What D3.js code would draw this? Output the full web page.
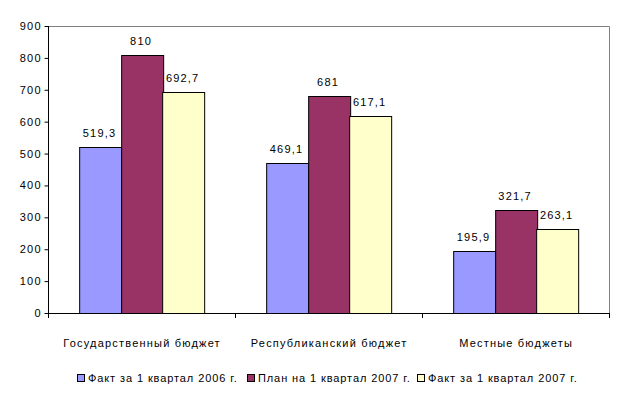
<!DOCTYPE html>
<html>
<head>
<meta charset="utf-8">
<script src="https://cdn.jsdelivr.net/npm/d3@7"></script>
<style>
  body { margin: 0; background: #fff; }
  text { font-family: Arial, "Liberation Sans", sans-serif; font-size: 11px; letter-spacing: 1.2px; fill: #000; }
  .leg text { letter-spacing: 0.9px; }
</style>
</head>
<body>
<div id="chart"></div>
<script>
// data
const categories = ["Государственный бюджет", "Республиканский бюджет", "Местные бюджеты"];
const seriesNames = ["Факт за 1 квартал 2006 г.", "План на 1 квартал 2007 г.", "Факт за 1 квартал 2007 г."];
const fact2006 = [519.3, 469.1, 195.9];
const plan2007 = [810, 681, 321.7];
const fact2007 = [692.7, 617.1, 263.1];
const yTicks = [0, 100, 200, 300, 400, 500, 600, 700, 800, 900];

const colors = ["#9999ff", "#993366", "#ffffcc"];
const series = [fact2006, plan2007, fact2007];

const W = 624, H = 395;
const plot = { left: 48, right: 609, top: 26, bottom: 313 };
const ls = 1.2; // letter spacing, used to re-centre text

const svg = d3.select("#chart").append("svg")
    .attr("width", W).attr("height", H);

// scales
const x0 = d3.scaleBand()
    .domain(categories)
    .range([plot.left, plot.right])
    .paddingInner(1 / 3)
    .paddingOuter(1 / 6);

const x1 = d3.scaleBand()
    .domain(d3.range(series.length))
    .range([0, x0.bandwidth()]);

const y = d3.scaleLinear()
    .domain([0, 900])
    .range([plot.bottom, plot.top]);

// plot border (top/right grey)
svg.append("path")
    .attr("d", `M${plot.left},${plot.top + 0.5}H${plot.right + 0.5}V${plot.bottom}`)
    .attr("fill", "none")
    .attr("stroke", "#808080");

// y axis
const yAxis = svg.append("g")
    .attr("transform", `translate(${plot.left + 0.5},0)`)
    .call(d3.axisLeft(y).tickValues(yTicks).tickSize(4).tickPadding(4).tickFormat(d3.format("d")));
yAxis.select(".domain").attr("stroke", "#000").attr("d", `M0,${plot.top}V${plot.bottom + 0.5}`);
yAxis.selectAll(".tick line").attr("stroke", "#000");
yAxis.selectAll(".tick text")
    .attr("font-family", null).attr("font-size", null)
    .attr("dx", ls);

// bars
const rows = categories.map((c, i) => ({ cat: c, vals: series.map(s => s[i]) }));

const groups = svg.selectAll(".grp")
    .data(rows)
    .enter().append("g")
    .attr("class", "grp")
    .attr("transform", d => `translate(${x0(d.cat)},0)`);

groups.selectAll("rect")
    .data(d => d.vals.map((v, k) => ({ v, k })))
    .enter().append("rect")
    .attr("x", d => Math.round(x1(d.k)) + 0.5)
    .attr("y", d => Math.round(y(d.v)) + 0.5)
    .attr("width", Math.round(x1.bandwidth()))
    .attr("height", d => Math.round(y(0)) - Math.round(y(d.v)))
    .attr("fill", d => colors[d.k])
    .attr("stroke", "#000");

groups.selectAll(".lbl")
    .data(d => d.vals.map((v, k) => ({ v, k })))
    .enter().append("text")
    .attr("class", "lbl")
    .attr("x", d => x1(d.k) + x1.bandwidth() / 2 + ls / 2 - 1)
    .attr("y", d => y(d.v) - 10)
    .attr("text-anchor", "middle")
    .text(d => String(d.v).replace(".", ","));

// x axis
const xAxisG = svg.append("g");
xAxisG.append("line")
    .attr("x1", plot.left).attr("x2", plot.right + 1)
    .attr("y1", plot.bottom + 0.5).attr("y2", plot.bottom + 0.5)
    .attr("stroke", "#000");
const boundaries = categories.map(c => x0(c) - x0.step() * x0.paddingInner() / 2).concat([plot.right]);
xAxisG.selectAll(".xt")
    .data(boundaries)
    .enter().append("line")
    .attr("x1", d => Math.round(d) + 0.5).attr("x2", d => Math.round(d) + 0.5)
    .attr("y1", plot.bottom).attr("y2", plot.bottom + 5)
    .attr("stroke", "#000");
xAxisG.selectAll(".xl")
    .data(categories)
    .enter().append("text")
    .attr("x", d => x0(d) + x0.bandwidth() / 2 + ls / 2)
    .attr("y", 347)
    .attr("text-anchor", "middle")
    .text(d => d);

// legend
const legendX = [77, 247, 417];
const legend = svg.selectAll(".leg")
    .data(seriesNames)
    .enter().append("g")
    .attr("class", "leg")
    .attr("transform", (d, i) => `translate(${legendX[i]},374)`);
legend.append("rect")
    .attr("x", 0.5).attr("y", 0.5)
    .attr("width", 7).attr("height", 7)
    .attr("fill", (d, i) => colors[i])
    .attr("stroke", "#000");
legend.append("text")
    .attr("x", 11)
    .attr("y", 8)
    .text(d => d);
</script>
</body>
</html>
